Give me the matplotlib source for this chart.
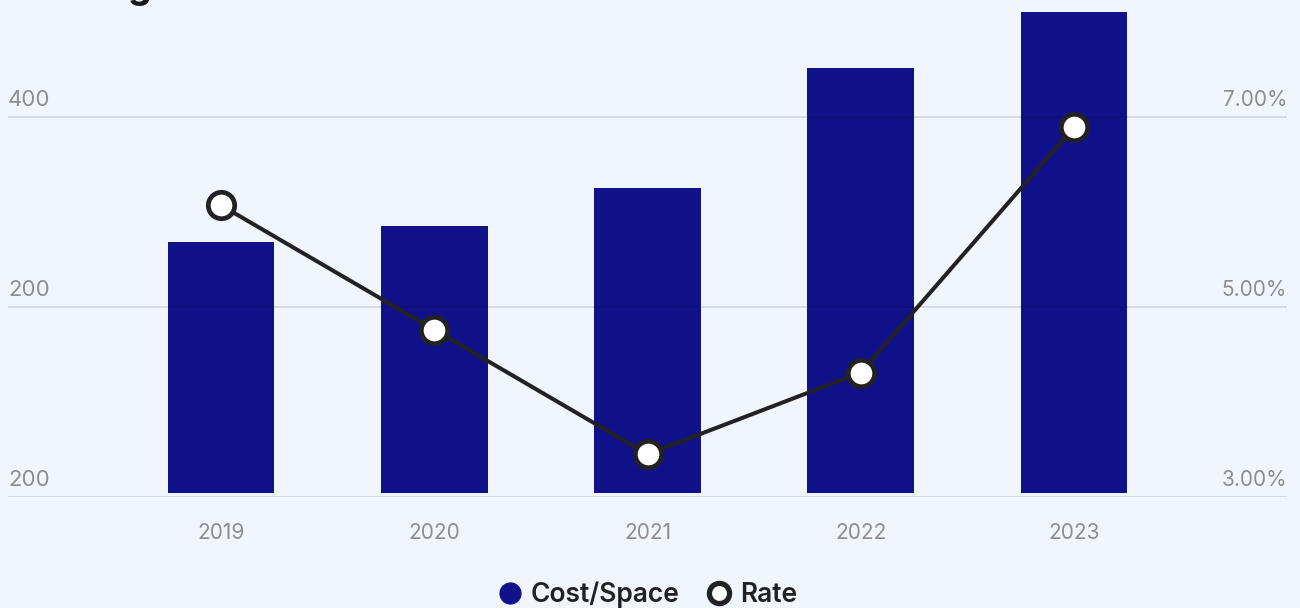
import matplotlib

matplotlib.use("Agg")
import matplotlib.pyplot as plt
from matplotlib.lines import Line2D
from matplotlib.transforms import blended_transform_factory

plt.rcParams["font.family"] = ["Inter", "DejaVu Sans"]

# --- data -------------------------------------------------------------
years = ["2019", "2020", "2021", "2022", "2023"]
cost_per_space = [270, 287, 328, 457, 517]
rate_pct = [6.07, 4.76, 3.45, 4.31, 6.89]

rate_ticks = [3, 5, 7]
rate_tick_labels = ["3.00%", "5.00%", "7.00%"]
cost_tick_labels = ["200", "200", "400"]

# --- style ------------------------------------------------------------
BG = "#F0F5FE"
BAR = "#11118A"
LINE = "#222222"
MUTED = "#8E8E8E"

fig = plt.figure(figsize=(13, 6.08), dpi=100, facecolor=BG)
ax = fig.add_axes([8 / 1300, 111 / 608, 1279 / 1300, 497 / 608])
ax.set_facecolor(BG)
ax2 = ax.twinx()

x = list(range(len(years)))

# bars (left scale)
ax.bar(x, cost_per_space, width=0.5, color=BAR, zorder=2)
ax.set_xlim(-1, 5)
ax.set_ylim(-4.3, 530)

# rate line (right scale)
ax2.plot(
    x, rate_pct, color=LINE, lw=2.9, marker="o", ms=19, mfc="white",
    mec=LINE, mew=3.4, zorder=5, solid_capstyle="round",
)
ax2.set_ylim(3, 3 + 497 / 95)

# translucent gridlines, drawn over the bars but under the line
for t in rate_ticks:
    ax2.axhline(t, color="black", alpha=0.11, lw=1.4, zorder=1)
ax.set_zorder(ax2.get_zorder() - 1)
ax.patch.set_visible(True)
ax2.patch.set_visible(False)

# tick labels drawn inside the plot area, above each gridline
trans = blended_transform_factory(ax2.transAxes, ax2.transData)
for t, lab_l, lab_r in zip(rate_ticks, cost_tick_labels, rate_tick_labels):
    ax2.text(0, t + 0.07, lab_l, transform=trans, ha="left", va="bottom",
             fontsize=16, color=MUTED)
    ax2.text(1, t + 0.07, lab_r, transform=trans, ha="right", va="bottom",
             fontsize=15, color=MUTED)

for a in (ax, ax2):
    a.set_yticks([])
    for s in a.spines.values():
        s.set_visible(False)

ax.set_xticks(x)
ax.set_xticklabels(years, fontsize=15, color=MUTED)
ax.tick_params(axis="x", length=0, pad=19)

# title sits mostly above the canvas edge
fig.text(8 / 1300, 1 + 2 / 608, "Leasing Costs vs. Rate", ha="left",
         va="baseline", fontsize=27, fontweight="bold", color="#1A1A1A")

handles = [
    Line2D([], [], ls="none", marker="o", ms=15, mfc=BAR, mec=BAR),
    Line2D([], [], ls="none", marker="o", ms=14.5, mfc="white", mec=LINE, mew=3.8),
]
fig.legend(handles, ["Cost/Space", "Rate"], loc="center", ncol=2,
           bbox_to_anchor=(647 / 1300, 13 / 608), frameon=False,
           prop={"size": 19, "weight": "semibold"}, labelcolor="#222222",
           handletextpad=0.3, columnspacing=1.0, handlelength=1.0)

fig.savefig("out.png", dpi=100, facecolor=BG)
